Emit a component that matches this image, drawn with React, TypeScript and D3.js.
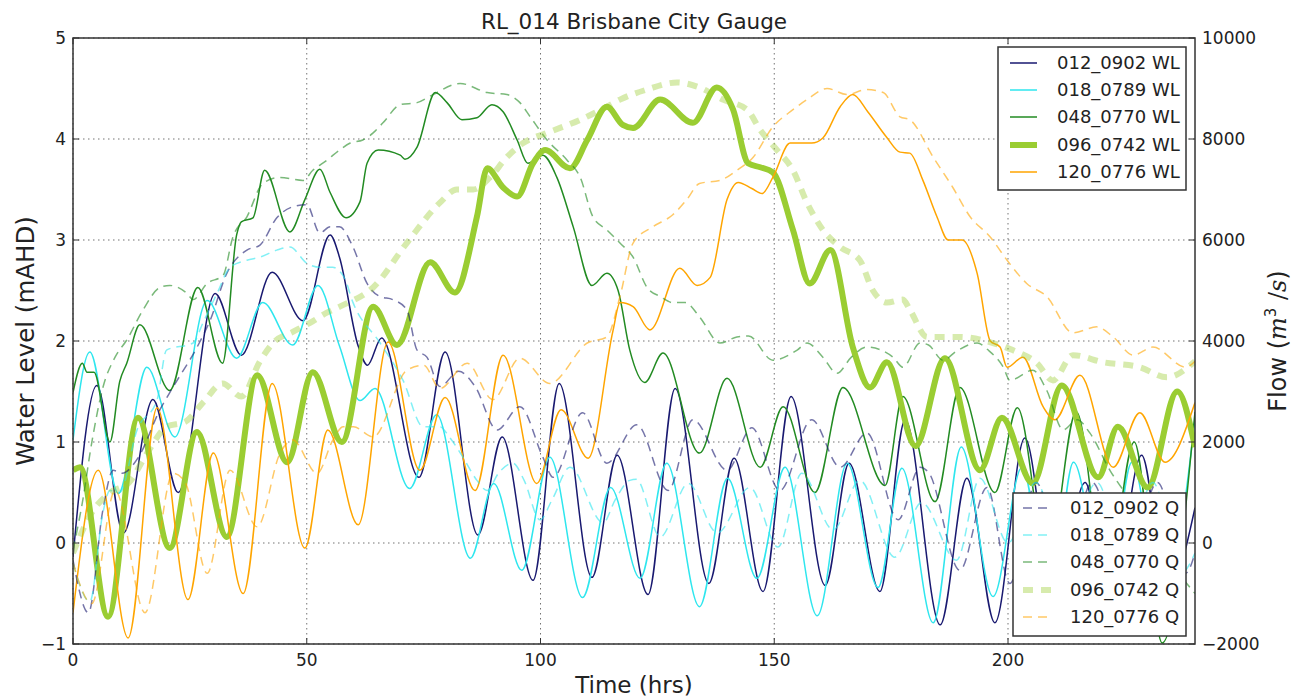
import React from 'react';
import * as d3 from 'd3';

type Pt = [number, number];

// gauge names and colours
const gauges = ['012_0902', '018_0789', '048_0770', '096_0742', '120_0776'];
const colors = ['midnightblue', '#2ee6ee', 'forestgreen', 'yellowgreen', 'orange'];

// water level (mAHD), [hrs, value]
const wl012: Pt[] = [[0,-0.14],[5.1,1.56],[10.8,0.1],[17.1,1.42],[22.5,0.5],[30.4,2.47],[36,1.86],[42.6,2.68],[49.2,2.2],[55,3.05],[57,2.83],[61,1.95],[63,1.76],[66,2.03],[74,0.65],[79.6,1.89],[86.6,0.08],[91.8,1.05],[98.4,-0.37],[104,1.58],[111,-0.34],[116.4,0.87],[123,-0.51],[128.8,1.53],[136,-0.4],[141.4,0.84],[147.6,-0.48],[153.6,1.45],[160.9,-0.42],[166,0.79],[172.6,-0.48],[178,1.22],[185.5,-0.81],[191.2,0.64],[197.2,-0.79],[203.6,1.04],[210,-0.6],[216.5,0.6],[222,-0.6],[228.6,0.87],[234,-0.5],[240,0.35]];
const wl018: Pt[] = [[0,1.02],[3.6,1.89],[9.7,0.49],[15.8,1.74],[21.8,1.05],[28.7,2.4],[35,1.83],[40.6,2.38],[47,1.96],[52.4,2.55],[57,1.95],[61.4,1.41],[64.6,1.53],[72,0.54],[77.8,1.27],[85,-0.15],[90,0.59],[96,-0.27],[102,0.85],[109,-0.54],[115,0.55],[121.3,-0.35],[127,0.79],[134,-0.63],[140,0.64],[146.3,-0.35],[152.3,0.75],[159.2,-0.72],[165.6,0.79],[172.2,-0.44],[177.3,0.74],[184,-0.79],[190,0.95],[196.8,-0.53],[203,0.75],[209,-0.6],[214,0.8],[221,-0.6],[226.5,0.8],[233,-0.6],[240,1.22]];
const wl048: Pt[] = [[0,1.49],[2,1.78],[3,1.69],[4.5,1.69],[7.9,1.0],[10,1.6],[11.5,1.78],[14.3,2.16],[20.7,1.51],[26.7,2.53],[32,1.78],[35,3.05],[36,3.18],[38.5,3.22],[41,3.69],[46.4,3.08],[49.6,3.4],[52.8,3.7],[55,3.47],[58.4,3.22],[61.4,3.38],[62.9,3.76],[65.3,3.89],[70,3.84],[71,3.8],[73.6,3.92],[77.5,4.46],[80,4.36],[83.2,4.19],[86.4,4.21],[89.6,4.34],[92,4.27],[95,3.99],[97.3,3.76],[100.5,3.84],[103.5,3.62],[107,3.13],[111,2.55],[114.2,2.67],[116.6,2.5],[119.1,1.91],[122.3,1.59],[126.2,1.88],[134,0.89],[139.9,1.63],[147,0.75],[151.9,1.35],[158.7,0.5],[164.7,1.54],[173.7,0.57],[177.5,1.45],[184.4,0.41],[189.7,1.54],[197.2,0.5],[202,1.34],[208.5,-0.2],[214.6,1.3],[221,-0.4],[227,1.0],[233,-0.99],[240,1.3]];
const wl096: Pt[] = [[0,0.72],[1.5,0.75],[7.5,-0.73],[13.9,1.24],[20.7,-0.05],[26.5,1.1],[32.9,0.06],[39.4,1.66],[45.8,0.8],[51.3,1.69],[57.5,1.0],[64.2,2.34],[69.3,1.96],[76.4,2.78],[81.7,2.48],[86.4,3.23],[88.6,3.71],[92,3.52],[95,3.43],[98.4,3.76],[101,3.89],[106.3,3.71],[110,3.99],[114.2,4.32],[117.6,4.14],[119.8,4.11],[125.6,4.39],[132.6,4.16],[137.7,4.51],[141.2,4.29],[144.4,3.76],[147,3.72],[149.7,3.67],[154,3.1],[157.6,2.57],[162,2.9],[166.8,1.94],[170.5,1.54],[174.1,1.79],[180.2,0.96],[186.5,1.83],[194,0.72],[198.7,1.24],[205.3,0.59],[211.5,1.56],[219.3,0.65],[223.5,1.15],[229.9,0.55],[236.2,1.5],[240,0.95]];
const wl120: Pt[] = [[0,-0.69],[5.4,0.72],[11.8,-0.94],[18,1.34],[24.6,-0.56],[30,0.89],[36.4,-0.5],[42.6,1.58],[49.6,-0.05],[54.5,1.12],[61,0.18],[67.4,1.99],[74.2,0.72],[79.6,1.44],[86,0.52],[92,1.86],[99.2,0.59],[104.4,1.32],[110.2,0.84],[115.5,2.1],[117,2.38],[119.8,2.34],[123.4,2.11],[129.8,2.72],[133.5,2.55],[136.3,2.63],[139.9,3.4],[142.3,3.57],[145.2,3.51],[147.4,3.46],[149.7,3.62],[153.4,3.96],[158,3.96],[160.4,4.01],[164.1,4.32],[166.8,4.44],[170,4.27],[174,4.02],[176.9,3.87],[179,3.86],[181.8,3.59],[184.8,3.23],[187.2,3.0],[190.2,3.0],[193.4,2.67],[196.2,2.0],[198.3,1.94],[199.8,1.74],[203.2,1.84],[207.5,1.35],[210,1.22],[215.4,1.66],[222.5,0.75],[228.2,1.29],[233.6,0.8],[240,1.39]];

// flow (m3/s), [hrs, value]
const q012: Pt[] = [[0,-340],[3.3,-1380],[6.4,660],[8.6,1440],[10.5,1380],[14,1700],[18.6,2640],[20.7,2980],[27,3960],[29.3,4400],[32.9,5340],[37.2,5800],[40,5900],[43.6,6440],[47.1,6660],[50,6700],[52.8,6140],[55,6260],[57,6260],[59.9,5860],[62.9,5140],[65.7,4880],[68.4,4820],[71.4,4620],[73.6,3820],[75.7,3680],[78.5,3100],[82.5,3400],[86,3100],[90.7,2240],[95.6,2700],[100.5,1700],[102.7,1300],[109,2580],[114.2,1580],[120.6,2340],[127.3,1040],[132.6,2440],[139.9,1440],[145.2,2280],[151.2,1040],[158,2440],[164.1,1500],[169.8,2180],[176.5,460],[181.2,1500],[183,1400],[189.7,-540],[195.5,1100],[200.4,-800],[206,1200],[212,-400],[218,1200],[225,-600],[232,1200],[238,-600],[240,-200]];
const q018: Pt[] = [[0,-400],[3.6,-1160],[6.4,600],[7.9,1040],[10,1000],[13.7,2240],[18,2840],[20,3820],[25.7,3960],[27.8,4360],[30.8,4940],[33.6,5460],[37.2,5600],[40,5660],[43.6,5800],[46.4,5860],[50,5540],[52.8,5460],[55.5,5460],[58,5260],[59.9,4760],[65.7,3960],[70.6,3220],[74.9,2300],[78.5,2300],[80.5,2100],[83.4,1700],[86.4,1240],[88.6,1040],[91,1380],[94.1,1580],[96.5,1240],[99.9,460],[102.5,860],[106.3,1500],[113.4,400],[116,860],[119.1,1240],[120.5,1260],[125.6,120],[131.6,1180],[137.8,200],[144.8,1100],[150.8,-80],[155.9,1380],[162.6,260],[168.3,1240],[175.8,-280],[181.5,800],[189,-340],[194,1280],[200,0],[206,1200],[212,-200],[219,1200],[225,-200],[231,1200],[237,-600],[240,-200]];
const q048: Pt[] = [[0,-140],[2,800],[4,1980],[6.4,3080],[9,3680],[11.5,4020],[15,4620],[18.6,5060],[20.7,5100],[24.4,4940],[25.7,4820],[28.7,5140],[32.1,5300],[34.2,6060],[37.2,6460],[40.6,7120],[44.3,7240],[49.2,7180],[51.3,7380],[54.3,7580],[57,7780],[59.3,7920],[62,7980],[64.2,8120],[66.3,8320],[70,8680],[73.6,8720],[77,8880],[82.8,9100],[88.6,8920],[92.8,8880],[95.6,8720],[97.8,8440],[101.4,7980],[105.7,7580],[108.5,7240],[111.2,6460],[114.2,6200],[117,5940],[119.8,5660],[122.8,5060],[125.6,4880],[128.3,4760],[131,4760],[134,4480],[138.4,3960],[142,4080],[144.5,4100],[149.7,3620],[154.9,3820],[157,3960],[160.4,3680],[163.4,3360],[166.5,3680],[169.8,3880],[175.4,3680],[177.5,3480],[181.2,3960],[183,3920],[186.1,3620],[189,3800],[193.4,3960],[196,3800],[199,3480],[200.4,3220],[205.3,3420],[208.3,3020],[211.8,2240],[214.8,2440],[217.5,2180],[221.8,1440],[225,1000],[230,400],[235,-400],[240,-1000]];
const q096: Pt[] = [[0,-200],[4,600],[8,1000],[12,1200],[16,1800],[20,2300],[24,2400],[28,2800],[32,3160],[36,2900],[40,3600],[43,3980],[47,4180],[50.7,4360],[54.3,4560],[57.5,4700],[64.2,5060],[71.4,5940],[78.5,6740],[82.1,7000],[85.6,7000],[89.2,7240],[92.8,7640],[96.3,7920],[101.4,8120],[108.5,8380],[114.2,8640],[117,8780],[122.8,8980],[129.2,9120],[134,9020],[139,8780],[144.2,8580],[147,8180],[150.6,7780],[154,7380],[157,6740],[160.4,6200],[164.1,5860],[168.3,5600],[171.1,5000],[174.1,4760],[177.5,4820],[179,4620],[182.7,4080],[189.7,4080],[196.8,3960],[201,3820],[206.2,3560],[209.6,3220],[213.9,3720],[220.3,3580],[228.2,3480],[234,3280],[240,3600]];
const q120: Pt[] = [[0,-400],[4,-1200],[9,1040],[15.4,-1380],[21.4,1380],[24,1200],[28.7,-600],[33.6,1440],[39.4,320],[44.3,1780],[47,2040],[52.2,1380],[55.6,2040],[57.8,2300],[60,2300],[64.2,2100],[71.4,3420],[75,3520],[78.5,3060],[84.3,3560],[89.8,2840],[95.6,3660],[102,3160],[110,3960],[114.2,4080],[117,4880],[119.8,5940],[124,6260],[128.3,6500],[131.3,6800],[134,7120],[138.4,7180],[142,7380],[145.5,7640],[149.7,8240],[154,8580],[157,8780],[161.3,9000],[165.6,8880],[169.8,8980],[173.3,8920],[176.9,8440],[179,8380],[184,7640],[188.2,7040],[191.9,6460],[196.2,6060],[199.8,5600],[204,5140],[208.3,4880],[213.9,4160],[219,4280],[222.5,4080],[226.8,3720],[231,3880],[238,3480],[240,3600]];

const wlSeries = [wl012, wl018, wl048, wl096, wl120];
const qSeries = [q012, q018, q048, q096, q120];

const xTicks = [0, 50, 100, 150, 200];
const yLTicks = [-1, 0, 1, 2, 3, 4, 5];
const yRTicks = [-2000, 0, 2000, 4000, 6000, 8000, 10000];

const W = 1304, H = 697;
const L = 73, R = 1195, T = 38, B = 644;
const font = 'DejaVu Sans, sans-serif';
const serif = 'DejaVu Serif, serif';
const ink = '#222';

// style of each line (thick for 096_0742)
const wlStyle = (i: number) => ({ width: i === 3 ? 6 : 1.5, opacity: 1, dash: undefined as string | undefined });
const qStyle = (i: number) => i === 3
  ? { width: 6, opacity: 0.4, dash: '10,8' }
  : { width: 1.5, opacity: 0.6, dash: '9,6' };

const App: React.FC = () => {
  const x = d3.scaleLinear().domain([0, 240]).range([L, R]);
  const yL = d3.scaleLinear().domain([-1, 5]).range([B, T]);
  const yR = d3.scaleLinear().domain([-2000, 10000]).range([B, T]);

  const lineL = d3.line<Pt>().x(d => x(d[0])).y(d => yL(d[1])).curve(d3.curveMonotoneX);
  const lineR = d3.line<Pt>().x(d => x(d[0])).y(d => yR(d[1])).curve(d3.curveMonotoneX);

  const legend = (kind: 'WL' | 'Q', box: { x0: number; y0: number; x1: number; y1: number; lx0: number; lx1: number; tx: number; ys: number[] }) => (
    <g>
      <rect x={box.x0} y={box.y0} width={box.x1 - box.x0} height={box.y1 - box.y0} fill="#fff" stroke="#333" strokeWidth={1.5} />
      {gauges.map((g, i) => {
        const s = kind === 'WL' ? wlStyle(i) : qStyle(i);
        return (
          <g key={g}>
            <line x1={box.lx0} x2={box.lx1} y1={box.ys[i]} y2={box.ys[i]} stroke={colors[i]}
              strokeWidth={s.width} strokeOpacity={s.opacity} strokeDasharray={s.dash} />
            <text x={box.tx} y={box.ys[i]} dy="0.35em" fontSize={18} fill={ink} fontFamily={font}>{`${g} ${kind}`}</text>
          </g>
        );
      })}
    </g>
  );

  return (
    <svg width={W} height={H} style={{ position: 'absolute', left: 0, top: 0, background: '#fff' }}>
      <defs>
        <clipPath id="plot"><rect x={L} y={T} width={R - L} height={B - T} /></clipPath>
      </defs>
      <rect width={W} height={H} fill="#fff" />

      {/* grid */}
      <g stroke="#000" strokeOpacity={0.55} strokeWidth={1} strokeDasharray="1.5,3.5">
        {xTicks.map(t => <line key={'gx' + t} x1={x(t)} x2={x(t)} y1={T} y2={B} />)}
        {yLTicks.map(t => <line key={'gy' + t} x1={L} x2={R} y1={yL(t)} y2={yL(t)} />)}
      </g>

      {/* water level lines */}
      <g clipPath="url(#plot)" fill="none" strokeLinejoin="round">
        {wlSeries.map((d, i) => (
          <path key={'wl' + i} d={lineL(d) || ''} stroke={colors[i]} strokeWidth={wlStyle(i).width} />
        ))}
      </g>

      {legend('WL', { x0: 998, y0: 47, x1: 1186, y1: 190, lx0: 1010, lx1: 1037, tx: 1057, ys: [63, 90, 117, 145, 172] })}

      {/* flow lines (twin axis, drawn on top) */}
      <g clipPath="url(#plot)" fill="none">
        {qSeries.map((d, i) => {
          const s = qStyle(i);
          return <path key={'q' + i} d={lineR(d) || ''} stroke={colors[i]} strokeWidth={s.width}
            strokeOpacity={s.opacity} strokeDasharray={s.dash} />;
        })}
      </g>

      {legend('Q', { x0: 1013, y0: 493, x1: 1186, y1: 636, lx0: 1023, lx1: 1052, tx: 1070, ys: [508, 535, 562, 590, 617] })}

      {/* frame */}
      <rect x={L} y={T} width={R - L} height={B - T} fill="none" stroke="#333" strokeWidth={1.5} />

      {/* ticks */}
      <g stroke="#333" strokeWidth={1}>
        {xTicks.map(t => <line key={'tx' + t} x1={x(t)} x2={x(t)} y1={B} y2={B - 6} />)}
        {xTicks.map(t => <line key={'ttx' + t} x1={x(t)} x2={x(t)} y1={T} y2={T + 6} />)}
        {yLTicks.map(t => <line key={'tl' + t} x1={L} x2={L + 6} y1={yL(t)} y2={yL(t)} />)}
        {yRTicks.map(t => <line key={'tr' + t} x1={R} x2={R - 6} y1={yR(t)} y2={yR(t)} />)}
      </g>

      <g fontFamily={font} fontSize={17} fill={ink}>
        {xTicks.map(t => <text key={'lx' + t} x={x(t)} y={B + 22} textAnchor="middle">{t}</text>)}
        {yLTicks.map(t => <text key={'ll' + t} x={L - 7} y={yL(t)} dy="0.35em" textAnchor="end">{t < 0 ? '\u2212' + Math.abs(t) : t}</text>)}
        {yRTicks.map(t => <text key={'lr' + t} x={R + 7} y={yR(t)} dy="0.35em">{t < 0 ? '\u2212' + Math.abs(t) : t}</text>)}
      </g>

      <text x={(L + R) / 2} y={29} textAnchor="middle" fontFamily={font} fontSize={21.5} fill={ink}>RL_014 Brisbane City Gauge</text>
      <text x={(L + R) / 2} y={693} textAnchor="middle" fontFamily={font} fontSize={23} fill={ink}>Time (hrs)</text>
      <text transform={`translate(34,${(T + B) / 2}) rotate(-90)`} textAnchor="middle" fontFamily={font} fontSize={24.5} fill={ink}>Water Level (mAHD)</text>
      <text transform={`translate(1286,${(T + B) / 2}) rotate(-90)`} textAnchor="middle" fontFamily={font} fontSize={24} fill={ink}>
        Flow (<tspan fontFamily={serif} fontStyle="italic">m</tspan>
        <tspan fontSize={15} dy={-10}>3</tspan>
        <tspan dy={10} fontFamily={serif}> /</tspan>
        <tspan fontFamily={serif} fontStyle="italic">s</tspan>)
      </text>
    </svg>
  );
};

export default App;
